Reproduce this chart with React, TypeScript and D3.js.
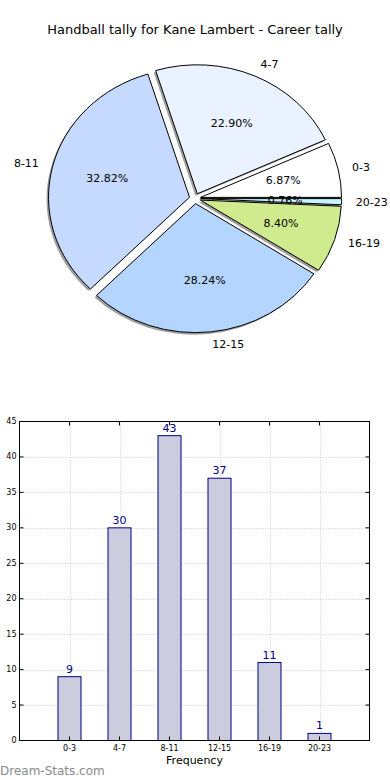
import React from 'react';
import * as d3 from 'd3';

const categories = ['0-3', '4-7', '8-11', '12-15', '16-19', '20-23'];
const counts = [9, 30, 43, 37, 11, 1];
const sliceColors = ['#ffffff', '#ebf2ff', '#c6d9ff', '#b4d5ff', '#d0eb8d', '#c8f4ff'];
const yTicks = [0, 5, 10, 15, 20, 25, 30, 35, 40, 45];

const FONT = '"DejaVu Sans", Verdana, sans-serif';

// pie geometry (matplotlib pie without equal aspect -> ellipse)
const cx = 195;
const cy = 198.5;
const rx = 141;
const ry = 129;
const explode = 0.04;

// bar axes frame
const bx0 = 19.5;
const bx1 = 369.5;
const by0 = 421.5;
const by1 = 740.5;

export default function App() {
  const total = d3.sum(counts);
  const pie = d3
    .pie<number>()
    .sort(null)
    .startAngle(Math.PI / 2)
    .endAngle(Math.PI / 2 - 2 * Math.PI);
  const slices = pie(counts);
  const arc = d3.arc<d3.PieArcDatum<number>>().innerRadius(0).outerRadius(100);

  const x = d3.scaleLinear().domain([-1, 6]).range([bx0, bx1]);
  const y = d3.scaleLinear().domain([0, 45]).range([by1, by0]);
  const barW = x(0.46) - x(0);

  const pieParts = slices.map((s, i) => {
    const mid = (s.startAngle + s.endAngle) / 2;
    const ux = Math.sin(mid);
    const uy = -Math.cos(mid);
    const ox = cx + explode * rx * ux;
    const oy = cy + explode * ry * uy;
    return { s, i, ux, uy, ox, oy };
  });

  return (
    <svg
      width={390}
      height={780}
      style={{ position: 'absolute', left: 0, top: 0, background: '#fff' }}
      fontFamily={FONT}
    >
      <text x={195} y={34} textAnchor="middle" fontSize={13} fill="#000">
        Handball tally for Kane Lambert - Career tally
      </text>

      {/* shadows */}
      {pieParts.map(({ s, i, ox, oy }) => (
        <g key={'sh' + i} transform={`translate(${ox - 2},${oy + 2}) scale(${rx / 100},${ry / 100})`}>
          <path d={arc(s) || ''} fill="#888" opacity={0.8} />
        </g>
      ))}
      {/* slices */}
      {pieParts.map(({ s, i, ox, oy }) => (
        <g key={'sl' + i} transform={`translate(${ox},${oy}) scale(${rx / 100},${ry / 100})`}>
          <path
            d={arc(s) || ''}
            fill={sliceColors[i]}
            stroke="#000"
            strokeWidth={1}
            vectorEffect="non-scaling-stroke"
          />
        </g>
      ))}
      {/* labels */}
      {pieParts.map(({ i, ux, uy, ox, oy }) => {
        const lx = ox + 1.1 * rx * ux;
        const ly = oy + 1.1 * ry * uy;
        return (
          <text
            key={'lb' + i}
            x={lx}
            y={ly}
            fontSize={11}
            dominantBaseline="central"
            textAnchor={ux > 0 ? 'start' : 'end'}
          >
            {categories[i]}
          </text>
        );
      })}
      {pieParts.map(({ i, ux, uy, ox, oy }) => (
        <text
          key={'pc' + i}
          x={ox + 0.6 * rx * ux}
          y={oy + 0.6 * ry * uy}
          fontSize={11}
          dominantBaseline="central"
          textAnchor="middle"
        >
          {((counts[i] / total) * 100).toFixed(2) + '%'}
        </text>
      ))}

      {/* bar chart grid */}
      {yTicks.slice(1, -1).map((t) => (
        <line
          key={'gy' + t}
          x1={bx0}
          x2={bx1}
          y1={Math.round(y(t)) + 0.5}
          y2={Math.round(y(t)) + 0.5}
          stroke="#c4c4c4"
          strokeDasharray="1,2"
        />
      ))}
      {categories.map((c, i) => (
        <line
          key={'gx' + c}
          x1={Math.round(x(i)) + 0.5}
          x2={Math.round(x(i)) + 0.5}
          y1={by0}
          y2={by1}
          stroke="#c4c4c4"
          strokeDasharray="1,2"
        />
      ))}

      {/* bars */}
      {counts.map((v, i) => (
        <rect
          key={'b' + i}
          x={x(i) - barW / 2}
          y={y(v)}
          width={barW}
          height={y(0) - y(v)}
          fill="#ccccdf"
          stroke="#000080"
          strokeWidth={1}
        />
      ))}
      {counts.map((v, i) => (
        <text key={'v' + i} x={x(i)} y={y(v) - 4} textAnchor="middle" fontSize={11} fill="#000080">
          {v}
        </text>
      ))}

      {/* frame */}
      <rect x={bx0} y={by0} width={bx1 - bx0} height={by1 - by0} fill="none" stroke="#000" strokeWidth={1} />

      {/* y ticks */}
      {yTicks.map((t) => (
        <g key={'yt' + t}>
          <line x1={bx0} x2={bx0 + 4} y1={y(t)} y2={y(t)} stroke="#000" />
          <line x1={bx1 - 4} x2={bx1} y1={y(t)} y2={y(t)} stroke="#000" />
          <text x={bx0 - 3} y={y(t)} textAnchor="end" dominantBaseline="central" fontSize={8}>
            {t}
          </text>
        </g>
      ))}
      {/* x ticks */}
      {categories.map((c, i) => (
        <g key={'xt' + c}>
          <line x1={x(i)} x2={x(i)} y1={by1} y2={by1 - 4} stroke="#000" />
          <line x1={x(i)} x2={x(i)} y1={by0} y2={by0 + 4} stroke="#000" />
          <text x={x(i)} y={by1 + 10} textAnchor="middle" fontSize={8}>
            {c}
          </text>
        </g>
      ))}
      <text x={(bx0 + bx1) / 2} y={764} textAnchor="middle" fontSize={11}>
        Frequency
      </text>

      <text x={0} y={775} fontSize={12} fill="#8a8a8a">
        Dream-Stats.com
      </text>
    </svg>
  );
}
